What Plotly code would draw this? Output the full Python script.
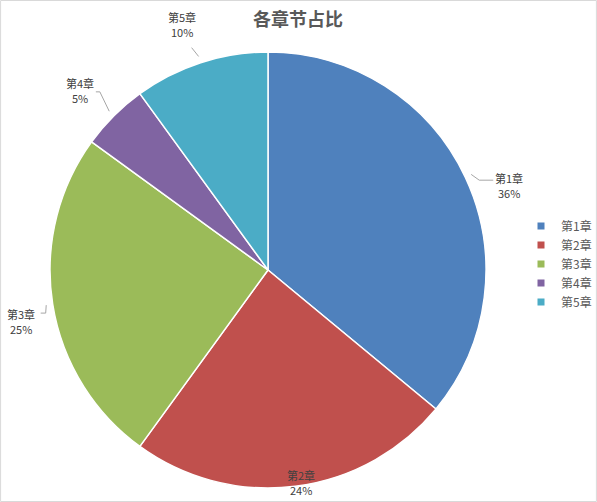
import math
import plotly.graph_objects as go

categories = ["第1章", "第2章", "第3章", "第4章", "第5章"]
values = [36, 24, 25, 5, 10]
colors = ["#4F81BD", "#C0504D", "#9BBB59", "#8064A2", "#4BACC6"]
title_text = "各章节占比"

W, H = 597, 502
cx, cy, R = 268, 270, 218

# label placement styles per slice: (dx px, dy px) of label centre from the slice's edge point
label_style = [(44, 8), (6, -4), (-32, 17), (-34, -25), (-19, -38)]
# leader lines: (start radius factor, elbow dx, elbow dy, end dx, end dy) relative to edge point
line_style = [(1.03, 14, 3, 28, 3), None, (1.03, -7, 9, -12, 9), (1.03, -14, -24, -18, -24), (1.03, -9, -15, -9, -15)]

fig = go.Figure()
fig.add_trace(go.Pie(
    labels=categories, values=values,
    marker=dict(colors=colors, line=dict(color="white", width=1.5)),
    sort=False, direction="clockwise", rotation=0,
    textinfo="none", hoverinfo="label+percent",
    showlegend=False,
    domain=dict(x=[(cx - R) / W, (cx + R) / W], y=[1 - (cy + R) / H, 1 - (cy - R) / H]),
))

for cat, col in zip(categories, colors):
    fig.add_trace(go.Scatter(x=[None], y=[None], mode="markers", name=cat,
                             marker=dict(symbol="square", size=7, color=col)))

total = sum(values)
cum = 0
shapes = []
lab_font = dict(size=11, color="#404040", family="Noto Sans CJK SC")
for i, (cat, v) in enumerate(zip(categories, values)):
    mid = (cum + v / 2) / total * 2 * math.pi
    cum += v
    ex = cx + R * math.sin(mid)
    ey = cy - R * math.cos(mid)
    dx, dy = label_style[i]
    lx = ex + dx
    ly = ey + dy
    pct = round(v / total * 100)
    fig.add_annotation(x=lx / W, y=1 - (ly - 7.5) / H, xref="paper", yref="paper",
                       text=cat, showarrow=False, font=lab_font,
                       xanchor="center", yanchor="middle")
    fig.add_annotation(x=lx / W, y=1 - (ly + 7.5) / H, xref="paper", yref="paper",
                       text=f"{pct}%", showarrow=False, font=lab_font,
                       xanchor="center", yanchor="middle")
    ls = line_style[i]
    if ls:
        f, ex1, ey1, ex2, ey2 = ls
        sx = cx + R * f * math.sin(mid)
        sy = cy - R * f * math.cos(mid)
        path = f"M{sx/W},{1-sy/H} L{(ex+ex1)/W},{1-(ey+ey1)/H} L{(ex+ex2)/W},{1-(ey+ey2)/H}"
        shapes.append(dict(type="path", xref="paper", yref="paper", path=path,
                           line=dict(color="#A6A6A6", width=1)))

shapes.append(dict(type="rect", xref="paper", yref="paper", x0=0.001, y0=0.001, x1=0.999, y1=0.999,
                   line=dict(color="#D9D9D9", width=1)))

fig.update_layout(
    width=W, height=H,
    margin=dict(l=0, r=0, t=0, b=0, autoexpand=False),
    paper_bgcolor="white", plot_bgcolor="white",
    title=dict(text=f"<b>{title_text}</b>", x=298 / W, xanchor="center", y=1 - 20 / H, yanchor="middle",
               font=dict(size=18, color="#595959", family="Noto Sans CJK SC")),
    xaxis=dict(visible=False), yaxis=dict(visible=False),
    legend=dict(x=521 / W, y=1 - 264 / H, xanchor="left", yanchor="middle",
                font=dict(size=12, color="#595959", family="Noto Sans CJK SC"),
                tracegroupgap=0, itemwidth=30, bgcolor="rgba(0,0,0,0)"),
    shapes=shapes,
)

fig.write_html("out.html")
